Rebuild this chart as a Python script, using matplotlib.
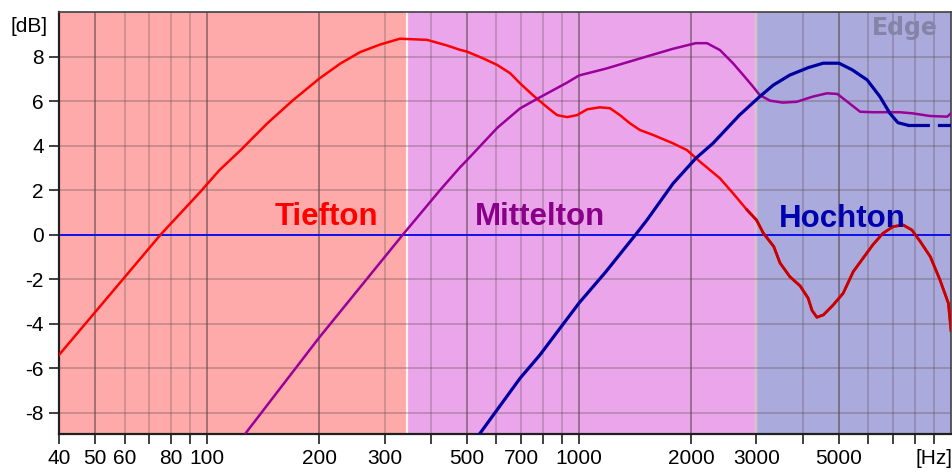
import numpy as np
import matplotlib
matplotlib.use("Agg")
import matplotlib.pyplot as plt

# crossover responses (Hz, dB)
tief_hz = [40, 75, 96, 108, 123, 145, 170, 200, 228, 258, 292, 330, 390, 441, 479,
           500, 552, 603, 653, 694, 751, 820, 873, 929, 988, 1052, 1138, 1211, 1288,
           1371, 1458, 1581, 1791, 1950, 2114, 2393, 2594, 2830, 3000, 3127, 3340,
           3470, 3690, 3930, 4130, 4230, 4360, 4540, 4820, 5130, 5460, 5800, 6160,
           6560, 6980, 7430, 7850, 8270, 8800, 9340, 9840, 10000]
tief_db = [-5.4, 0.0, 1.93, 2.9, 3.79, 4.99, 6.03, 7.0, 7.68, 8.2, 8.54, 8.8, 8.75, 8.5, 8.3,
           8.22, 7.92, 7.62, 7.25, 6.8, 6.27, 5.73, 5.37, 5.28, 5.37, 5.63, 5.72, 5.68, 5.37,
           5.0, 4.7, 4.48, 4.1, 3.8, 3.28, 2.53, 1.86, 1.11, 0.66, 0.08, -0.54,
           -1.27, -1.89, -2.3, -2.85, -3.4, -3.71, -3.6, -3.16, -2.63, -1.66, -1.06, -0.46,
           0.06, 0.36, 0.44, 0.21, -0.31, -0.99, -2.03, -3.08, -4.3]

mittel_hz = [120, 200, 336, 423, 479, 500, 603, 694, 785, 929, 1000, 1183, 1450, 1790,
             2060, 2208, 2393, 2594, 2763, 2935, 3060, 3260, 3530, 3850, 4250, 4640,
             4950, 5330, 5700, 6160, 7280, 7880, 8780, 9770, 10000]
mittel_db = [-9.45, -4.63, 0.0, 2.0, 3.03, 3.35, 4.8, 5.67, 6.17, 6.83, 7.15, 7.46, 7.9, 8.35,
             8.6, 8.6, 8.29, 7.7, 7.17, 6.65, 6.27, 6.02, 5.93, 5.97, 6.2, 6.35,
             6.32, 5.9, 5.52, 5.5, 5.5, 5.45, 5.33, 5.3, 5.45]

hoch_hz = [530, 694, 785, 1000, 1180, 1430, 1523, 1790, 2060, 2290, 2700, 3060, 3330,
           3690, 4130, 4530, 5000, 5430, 5950, 6440, 6850, 7200, 7600]
hoch_db = [-9.14, -6.45, -5.4, -3.07, -1.67, 0.07, 0.66, 2.3, 3.43, 4.1, 5.37, 6.2, 6.72,
           7.17, 7.5, 7.7, 7.7, 7.4, 6.95, 6.2, 5.45, 5.03, 4.93]
hoch_tail_hz = [7600, 10000]
hoch_tail_db = [4.93, 4.93]

# frequency bands behind the curves
band_edges = [40, 345, 3000, 10000]
band_colors = ["#FFAAAA", "#EBA6EB", "#AAAADC"]

xticks = [40, 50, 60, 70, 80, 90, 100, 200, 300, 400, 500, 600, 700, 800, 900, 1000,
          2000, 3000, 4000, 5000, 6000, 7000, 8000, 9000]
xlabels = {40: "40", 50: "50", 60: "60", 80: "80", 100: "100", 200: "200", 300: "300",
           500: "500", 700: "700", 1000: "1000", 2000: "2000", 3000: "3000",
           5000: "5000", 9000: "[Hz]"}
dark_lines = [50, 100, 200, 500, 1000, 2000, 5000]
yticks = [-8, -6, -4, -2, 0, 2, 4, 6, 8]

plt.rcParams["font.family"] = ["Liberation Sans", "DejaVu Sans"]

fig = plt.figure(figsize=(9.52, 4.75), dpi=100)
ax = fig.add_axes([59 / 952, 1 - 434 / 475, 892 / 952, 422 / 475])
ax.set_xscale("log")
ax.set_xlim(40, 10000)
ax.set_ylim(-8.95, 10)

for i, c in enumerate(band_colors):
    ax.axvspan(band_edges[i], band_edges[i + 1], color=c, zorder=0, lw=0)
for e in band_edges[1:3]:
    ax.axvline(e, color="#FFF0F0", lw=1.6, zorder=1)

for f in xticks:
    if f in dark_lines:
        ax.axvline(f, color="#4A3A3A", alpha=0.55, lw=1.3, zorder=1)
    else:
        ax.axvline(f, color="#5A4A4A", alpha=0.35, lw=1.1, zorder=1)
for y in yticks:
    ax.axhline(y, color="#5A4A4A", alpha=0.38, lw=1.1, zorder=1)

ax.axhline(0, color="#1010F0", lw=1.4, zorder=2)

t_hz = np.array(tief_hz)
t_db = np.array(tief_db)
ax.plot(t_hz, t_db, color="#FF0000", lw=1.8, zorder=3)
hi = t_hz >= 2830
ax.plot(t_hz[hi], t_db[hi], color="#C80000", lw=2.0, zorder=3)
ax.plot(mittel_hz, mittel_db, color="#9A009A", lw=1.8, zorder=3)
ax.plot(hoch_hz, hoch_db, color="#0000A0", lw=2.3, zorder=4)
ax.plot(hoch_tail_hz, hoch_tail_db, color="#0000A0", lw=2.3, zorder=4,
        linestyle=(0, (7, 2.5)))

ax.text(209, 0.44, "Tiefton", color="#FF0000", fontsize=22.5, fontweight="bold",
        ha="center", va="baseline", zorder=5)
ax.text(785, 0.44, "Mittelton", color="#880088", fontsize=22.5, fontweight="bold",
        ha="center", va="baseline", zorder=5)
ax.text(5090, 0.35, "Hochton", color="#0000B0", fontsize=22.5, fontweight="bold",
        ha="center", va="baseline", zorder=5)
ax.text(7500, 9.3, "Edge", color="#8484A8", fontsize=17, fontweight="bold",
        family="DejaVu Sans", ha="center", va="center", zorder=5)

ax.set_xticks(xticks)
ax.set_xticklabels([xlabels.get(f, "") for f in xticks])
ax.xaxis.set_minor_locator(matplotlib.ticker.NullLocator())
ax.set_yticks(yticks)
ax.set_yticklabels([str(v) for v in yticks])
ax.tick_params(axis="both", direction="out", length=7, width=1.2, color="#202020",
               labelsize=15, pad=4)

for s in ["left", "bottom"]:
    ax.spines[s].set_color("#202020")
    ax.spines[s].set_linewidth(1.6)
for s in ["top", "right"]:
    ax.spines[s].set_color("#404040")
    ax.spines[s].set_linewidth(1.2)

fig.text(29 / 952, 1 - 27 / 475, "[dB]", fontsize=15, ha="center", va="center")

fig.savefig("out.png", dpi=100)
